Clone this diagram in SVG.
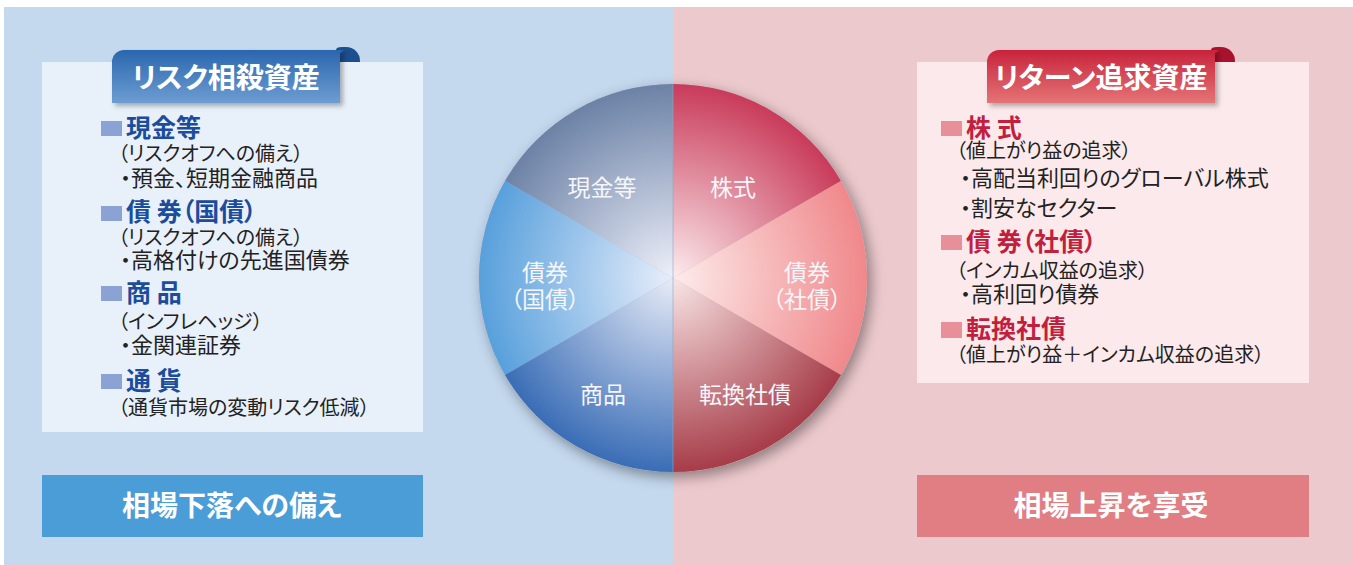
<svg xmlns="http://www.w3.org/2000/svg" width="1353" height="565" viewBox="0 0 1353 565">
<defs>
<style>
text{font-family:"Noto Sans CJK JP","Noto Sans",sans-serif;font-feature-settings:"palt";}
.tab{font-size:28px;font-weight:bold;fill:#ffffff;text-anchor:middle;}
.hb{font-size:25px;font-weight:bold;fill:#1c4c9c;}
.hr{font-size:25px;font-weight:bold;fill:#c21f3f;}
.p{font-size:20px;fill:#222222;}
.b{font-size:22px;fill:#222222;}
.bar{font-size:28px;font-weight:bold;fill:#ffffff;text-anchor:middle;}
.pie{font-size:23px;fill:#f6f6fa;text-anchor:middle;}
</style>
<linearGradient id="tabBlue" x1="0" y1="0" x2="0" y2="1"><stop offset="0" stop-color="#2a66ae"/><stop offset="1" stop-color="#6d9dd2"/></linearGradient>
<linearGradient id="tabRed" x1="0" y1="0" x2="0" y2="1"><stop offset="0" stop-color="#c8233c"/><stop offset="1" stop-color="#e47476"/></linearGradient>
<radialGradient id="gTL" gradientUnits="userSpaceOnUse" cx="673" cy="278" r="194"><stop offset="0" stop-color="#eef0fa"/><stop offset="1" stop-color="#6c82a6"/></radialGradient>
<radialGradient id="gL" gradientUnits="userSpaceOnUse" cx="673" cy="278" r="194"><stop offset="0" stop-color="#e8eefb"/><stop offset="1" stop-color="#58a0dc"/></radialGradient>
<radialGradient id="gBL" gradientUnits="userSpaceOnUse" cx="673" cy="278" r="194"><stop offset="0" stop-color="#e8ecf8"/><stop offset="1" stop-color="#3a6db6"/></radialGradient>
<radialGradient id="gTR" gradientUnits="userSpaceOnUse" cx="673" cy="278" r="194"><stop offset="0" stop-color="#fcecee"/><stop offset="1" stop-color="#c93b5a"/></radialGradient>
<radialGradient id="gR" gradientUnits="userSpaceOnUse" cx="673" cy="278" r="194"><stop offset="0" stop-color="#fdeceb"/><stop offset="1" stop-color="#f0888b"/></radialGradient>
<radialGradient id="gBR" gradientUnits="userSpaceOnUse" cx="673" cy="278" r="194"><stop offset="0" stop-color="#f9e6e6"/><stop offset="1" stop-color="#a63c48"/></radialGradient>
<filter id="shadow" x="-20%" y="-20%" width="140%" height="140%"><feDropShadow dx="4" dy="5" stdDeviation="7" flood-color="#000000" flood-opacity="0.4"/></filter>
<filter id="tabShadow" x="-10%" y="-20%" width="130%" height="150%"><feDropShadow dx="3" dy="3" stdDeviation="2.5" flood-color="#000000" flood-opacity="0.3"/></filter>
</defs>

<g id="background">
<rect x="0" y="0" width="1353" height="565" fill="#ffffff"/>
<rect x="4" y="7" width="669" height="558" fill="#c4d8ee"/>
<rect x="673" y="7" width="680" height="558" fill="#ecc9cd"/>
</g>

<g id="pie">
<g filter="url(#shadow)">
<circle cx="673" cy="278" r="194" fill="#b0b8c8"/>
</g>
<path d="M673,278 L673,84 A194,194 0 0 0 505,181 Z" fill="url(#gTL)"/>
<path d="M673,278 L505,181 A194,194 0 0 0 505,375 Z" fill="url(#gL)"/>
<path d="M673,278 L505,375 A194,194 0 0 0 673,472 Z" fill="url(#gBL)"/>
<path d="M673,278 L673,84 A194,194 0 0 1 841,181 Z" fill="url(#gTR)"/>
<path d="M673,278 L841,181 A194,194 0 0 1 841,375 Z" fill="url(#gR)"/>
<path d="M673,278 L841,375 A194,194 0 0 1 673,472 Z" fill="url(#gBR)"/>
<line x1="673" y1="84" x2="673" y2="472" stroke="#9aa0b8" stroke-width="1" opacity="0.6"/>
<text class="pie" x="602" y="196">現金等</text>
<text class="pie" x="733" y="196">株式</text>
<text class="pie" x="545" y="281">債券</text>
<text class="pie" x="545" y="308">（国債）</text>
<text class="pie" x="807" y="281">債券</text>
<text class="pie" x="807" y="308">（社債）</text>
<text class="pie" x="603" y="403">商品</text>
<text class="pie" x="745" y="403">転換社債</text>
</g>

<g id="risk-offset">
<rect x="42" y="62" width="381" height="370" fill="#e8f0fa"/>
<path d="M336,62 L336,50 Q336,47 342,47 L346,47 A14,14 0 0 1 360,61 L360,62 Z" fill="#1d4e8e"/>
<path d="M112,103 L112,62 A12,12 0 0 1 124,50 L344,50 L340,53 L340,103 Z" fill="url(#tabBlue)" filter="url(#tabShadow)"/>
<text class="tab" x="226" y="88">リスク相殺資産</text>
<rect x="101" y="121" width="21" height="15" fill="#8aa3d4"/>
<text class="hb" x="126" y="137">現金等</text>
<text class="p" x="118" y="161">（リスクオフへの備え）</text>
<text class="b" x="120" y="186">・預金、短期金融商品</text>
<rect x="101" y="206" width="21" height="15" fill="#8aa3d4"/>
<text class="hb" x="126" y="221">債 券（国債）</text>
<text class="p" x="118" y="245">（リスクオフへの備え）</text>
<text class="b" x="120" y="268">・高格付けの先進国債券</text>
<rect x="101" y="286" width="21" height="15" fill="#8aa3d4"/>
<text class="hb" x="126" y="302">商 品</text>
<text class="p" x="118" y="329">（インフレヘッジ）</text>
<text class="b" x="120" y="353">・金関連証券</text>
<rect x="101" y="374" width="21" height="15" fill="#8aa3d4"/>
<text class="hb" x="126" y="390">通 貨</text>
<text class="p" x="118" y="415">（通貨市場の変動リスク低減）</text>
</g>

<g id="return-seeking">
<rect x="917" y="62" width="392" height="321" fill="#fbe9eb"/>
<path d="M1211,62 L1211,50 Q1211,47 1217,47 L1221,47 A14,14 0 0 1 1235,61 L1235,62 Z" fill="#a8122c"/>
<path d="M987,103 L987,62 A12,12 0 0 1 999,50 L1219,50 L1215,53 L1215,103 Z" fill="url(#tabRed)" filter="url(#tabShadow)"/>
<text class="tab" x="1101" y="88">リターン追求資産</text>
<rect x="941" y="121" width="21" height="15" fill="#e8909a"/>
<text class="hr" x="966" y="137">株 式</text>
<text class="p" x="956" y="158">（値上がり益の追求）</text>
<text class="b" x="960" y="186">・高配当利回りのグローバル株式</text>
<text class="b" x="960" y="216">・割安なセクター</text>
<rect x="941" y="235" width="21" height="15" fill="#e8909a"/>
<text class="hr" x="966" y="251">債 券（社債）</text>
<text class="p" x="956" y="278">（インカム収益の追求）</text>
<text class="b" x="960" y="302">・高利回り債券</text>
<rect x="941" y="322" width="21" height="16" fill="#e8909a"/>
<text class="hr" x="966" y="338">転換社債</text>
<text class="p" x="956" y="362">（値上がり益＋インカム収益の追求）</text>
</g>

<g id="bar-left">
<rect x="42" y="475" width="381" height="62" fill="#4a9dd7"/>
<text class="bar" x="232" y="516">相場下落への備え</text>
</g>

<g id="bar-right">
<rect x="917" y="475" width="392" height="62" fill="#e07e83"/>
<text class="bar" x="1111" y="516">相場上昇を享受</text>
</g>
</svg>
